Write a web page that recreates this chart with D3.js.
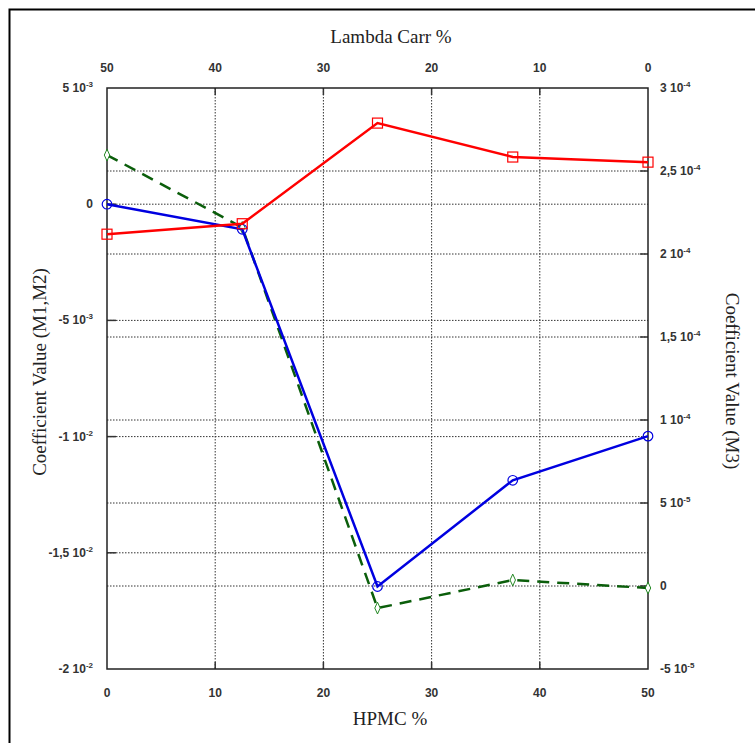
<!DOCTYPE html>
<html><head><meta charset="utf-8">
<script src="https://cdn.jsdelivr.net/npm/d3@7"></script>
<style>body{margin:0;background:#fff}svg{display:block}</style>
</head><body>
<script>
// ---- data ----
const hpmc = [0, 12.5, 25, 37.5, 50];
const seriesM1 = [-1.29e-3, -0.84e-3, 3.49e-3, 2.03e-3, 1.81e-3];   // red squares, left axis
const seriesM2 = [0, -1.08e-3, -16.45e-3, -11.88e-3, -9.98e-3];   // blue circles, left axis
const seriesM3 = [2.596e-4, 2.16e-4, -1.33e-5, 3.6e-6, -1.2e-6];   // green diamonds, right axis
const leftTicks = [5e-3, 0, -5e-3, -1e-2, -1.5e-2, -2e-2];
const leftTickLabels = [["5 10","-3"],["0",""],["-5 10","-3"],["-1 10","-2"],["-1,5 10","-2"],["-2 10","-2"]];
const rightTicks = [3e-4, 2.5e-4, 2e-4, 1.5e-4, 1e-4, 5e-5, 0, -5e-5];
const rightTickLabels = [["3 10","-4"],["2,5 10","-4"],["2 10","-4"],["1,5 10","-4"],["1 10","-4"],["5 10","-5"],["0",""],["-5 10","-5"]];
const bottomTicks = [0, 10, 20, 30, 40, 50];
const topTicks = [50, 40, 30, 20, 10, 0];

const W = 755, H = 743;
const L = 107, R = 648, T = 88, B = 669;

const svg = d3.select("body").append("svg").attr("width", W).attr("height", H);

// outer border
svg.append("path").attr("d", `M9.5,${H}V9.5H${W}`).attr("fill","none").attr("stroke","#000").attr("stroke-width",2);

const x = d3.scaleLinear().domain([0, 50]).range([L, R]);
const xTop = d3.scaleLinear().domain([50, 0]).range([L, R]);
const yL = d3.scaleLinear().domain([-2e-2, 5e-3]).range([B, T]);
const yR = d3.scaleLinear().domain([-5e-5, 3e-4]).range([B, T]);

const grid = svg.append("g").attr("stroke","#333").attr("stroke-width",1).attr("stroke-dasharray","1.5,1.5");
bottomTicks.filter(d => d > 0 && d < 50).forEach(d => {
  grid.append("line").attr("x1", x(d)).attr("x2", x(d)).attr("y1", T).attr("y2", B);
});
leftTicks.filter(d => d < 5e-3 && d > -2e-2).forEach(d => {
  grid.append("line").attr("x1", L).attr("x2", R).attr("y1", yL(d)).attr("y2", yL(d));
});
rightTicks.filter(d => d < 3e-4 && d > -5e-5).forEach(d => {
  grid.append("line").attr("x1", L).attr("x2", R).attr("y1", yR(d)).attr("y2", yR(d));
});

// inward tick marks
const tk = svg.append("g").attr("stroke","#333").attr("stroke-width",1.5);
leftTicks.filter(d => d < 5e-3 && d > -2e-2).forEach(d => {
  tk.append("line").attr("x1", L).attr("x2", L + 9).attr("y1", yL(d)).attr("y2", yL(d));
});
rightTicks.filter(d => d < 3e-4 && d > -5e-5).forEach(d => {
  tk.append("line").attr("x1", R - 8).attr("x2", R).attr("y1", yR(d)).attr("y2", yR(d));
});
bottomTicks.filter(d => d > 0 && d < 50).forEach(d => {
  tk.append("line").attr("x1", x(d)).attr("x2", x(d)).attr("y1", B).attr("y2", B - 7);
  tk.append("line").attr("x1", x(d)).attr("x2", x(d)).attr("y1", T).attr("y2", T + 7);
});

// frame
svg.append("rect").attr("x", L).attr("y", T).attr("width", R - L).attr("height", B - T)
  .attr("fill","none").attr("stroke","#222").attr("stroke-width",1.5);

// tick labels
const tickFont = "'Liberation Sans', Arial, sans-serif";
function supLabel(g, lab, anchor) {
  const t = g.append("text").attr("font-family", tickFont).attr("font-weight","bold")
    .attr("font-size", 12).attr("fill","#333").attr("text-anchor", anchor);
  t.append("tspan").text(lab[0]);
  if (lab[1]) t.append("tspan").attr("font-size", 8).attr("dy", -5).text(lab[1]);
  return t;
}
leftTicks.forEach((d, i) => {
  supLabel(svg, leftTickLabels[i], "end").attr("x", 93).attr("y", yL(d) + 4);
});
rightTicks.forEach((d, i) => {
  supLabel(svg, rightTickLabels[i], "start").attr("x", 660).attr("y", yR(d) + 4);
});
bottomTicks.forEach(d => {
  svg.append("text").attr("font-family", tickFont).attr("font-weight","bold").attr("font-size",12)
    .attr("fill","#333").attr("text-anchor","middle").attr("x", x(d)).attr("y", 697).text(d);
});
topTicks.forEach(d => {
  svg.append("text").attr("font-family", tickFont).attr("font-weight","bold").attr("font-size",12)
    .attr("fill","#333").attr("text-anchor","middle").attr("x", xTop(d)).attr("y", 72).text(d);
});

// axis titles
const titleFont = "'Liberation Serif', 'Times New Roman', serif";
svg.append("text").attr("font-family", titleFont).attr("font-size", 19).attr("fill","#222")
  .attr("text-anchor","middle").attr("x", 391).attr("y", 43).text("Lambda Carr %");
svg.append("text").attr("font-family", titleFont).attr("font-size", 19).attr("fill","#222")
  .attr("text-anchor","middle").attr("x", 390).attr("y", 725).text("HPMC %");
svg.append("text").attr("font-family", titleFont).attr("font-size", 19).attr("fill","#222")
  .attr("text-anchor","middle").attr("transform","translate(46,372) rotate(-90)").text("Coefficient Value (M1,M2)");
svg.append("text").attr("font-family", titleFont).attr("font-size", 19).attr("fill","#222")
  .attr("text-anchor","middle").attr("transform","translate(726,381) rotate(90)").text("Coefficient Value (M3)");

// series
const lineL = d3.line().x((d, i) => x(hpmc[i])).y(d => yL(d));
const lineR = d3.line().x((d, i) => x(hpmc[i])).y(d => yR(d));

svg.append("path").attr("d", lineR(seriesM3)).attr("fill","none").attr("stroke","#0b5e0b")
  .attr("stroke-width",2.5).attr("stroke-dasharray","12,8");
svg.selectAll(".dm").data(seriesM3).enter().append("path")
  .attr("d", d3.symbol(d3.symbolDiamond, 40)())
  .attr("transform", (d, i) => `translate(${x(hpmc[i])},${yR(d)}) scale(0.8,1)`)
  .attr("fill","#fff").attr("stroke","#0b7a0b").attr("stroke-width",1);

svg.append("path").attr("d", lineL(seriesM2)).attr("fill","none").attr("stroke","#0000e0").attr("stroke-width",2.5);
svg.selectAll(".ci").data(seriesM2).enter().append("circle")
  .attr("cx", (d, i) => x(hpmc[i])).attr("cy", d => yL(d)).attr("r", 4.8)
  .attr("fill","none").attr("stroke","#0000e0").attr("stroke-width",1.2);

svg.append("path").attr("d", lineL(seriesM1)).attr("fill","none").attr("stroke","#ff0000").attr("stroke-width",2.5);
svg.selectAll(".sq").data(seriesM1).enter().append("rect")
  .attr("x", (d, i) => x(hpmc[i]) - 5).attr("y", d => yL(d) - 5).attr("width", 10).attr("height", 10)
  .attr("fill","none").attr("stroke","#ff0000").attr("stroke-width",1.2);
</script>
</body></html>
